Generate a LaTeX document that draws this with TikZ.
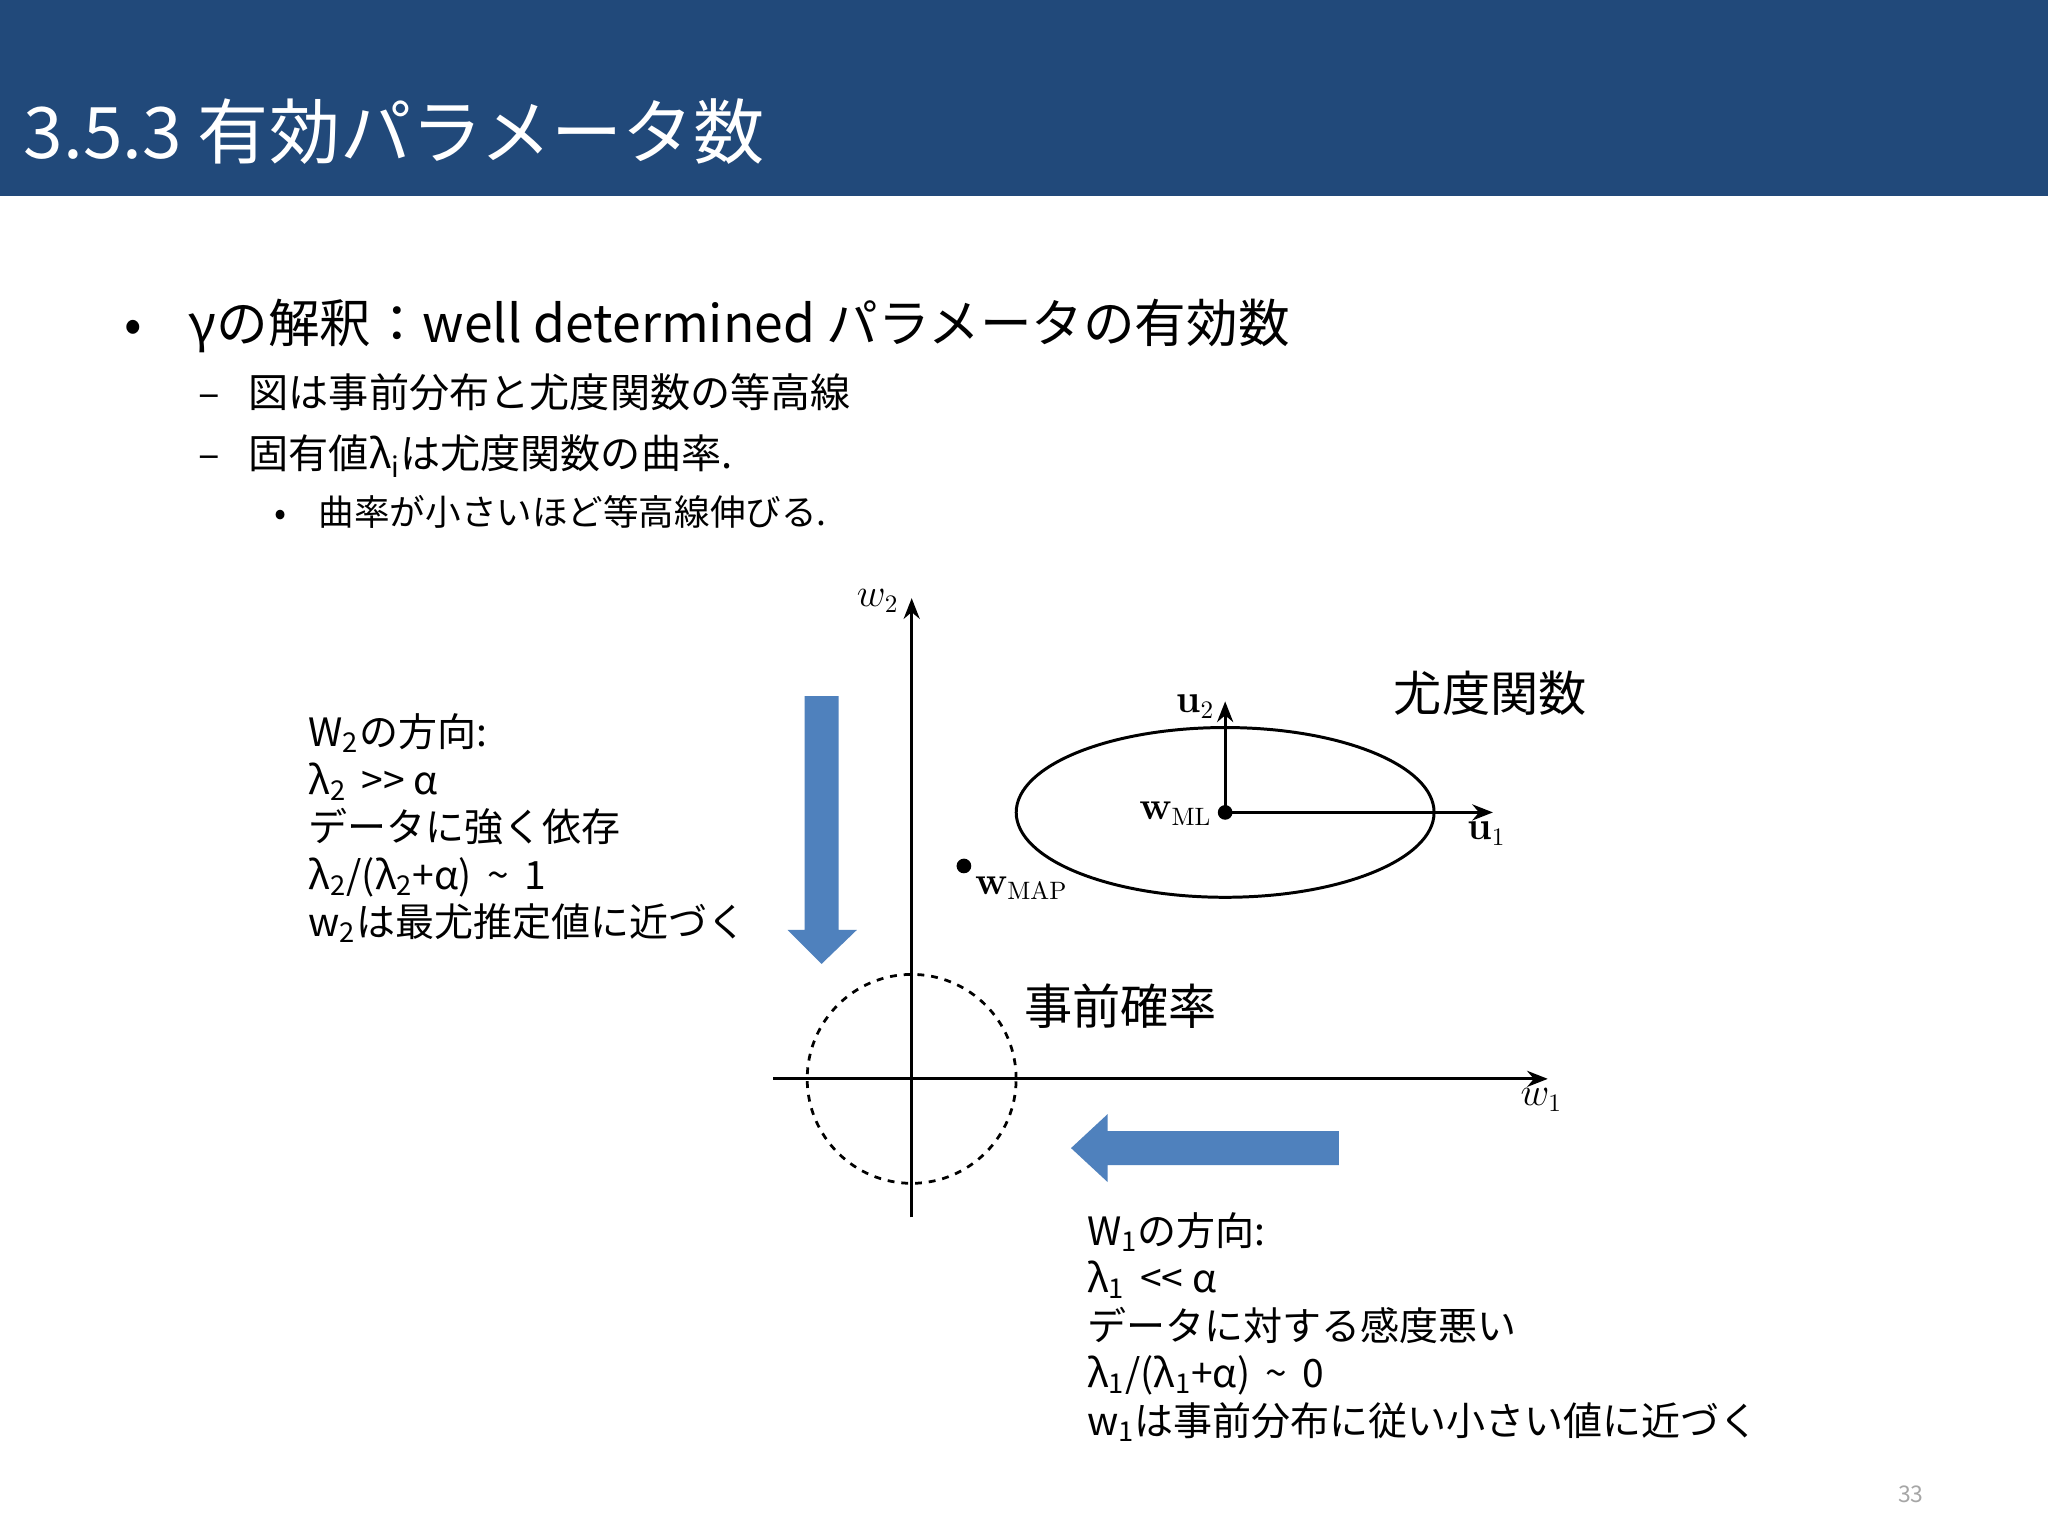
\documentclass[tikz,border=0pt]{standalone}
\usepackage[no-math]{fontspec}
\setmainfont{Noto Sans CJK JP}
\usetikzlibrary{arrows.meta,shapes.geometric}
\definecolor{hdr}{HTML}{21497A}
\definecolor{arr}{HTML}{4F81BD}
\newcommand{\sbs}[1]{\textsubscript{#1}}
\begin{document}
\begin{tikzpicture}[x=0.02cm,y=-0.02cm,
  txt/.style={anchor=base west,inner sep=0pt},
  ax/.style={line width=1.3pt,-{Stealth[length=9pt,width=7pt]}},
  ml/.style={inner sep=0pt,font=\fontsize{16}{18}\selectfont}]
\useasboundingbox (0,0) rectangle (1568,1176);
\fill[white] (0,0) rectangle (1568,1176);
\fill[hdr] (0,0) rectangle (1568,150);
\node[txt,text=white,font=\fontsize{31}{34}\selectfont] (title) at (18,121) {3.5.3 有効パラメータ数};
\node[txt,font=\fontsize{22.5}{26}\selectfont] (b1) at (95,262) {•\hspace{0.9em}γの解釈：well determined パラメータの有効数};
\node[txt,font=\fontsize{17.5}{20}\selectfont] (b2) at (152,312) {–\hspace{0.7em}図は事前分布と尤度関数の等高線};
\node[txt,font=\fontsize{17.5}{20}\selectfont] (b3) at (152,359) {–\hspace{0.7em}固有値λ\sbs{i}は尤度関数の曲率.};
\node[txt,font=\fontsize{15.5}{18}\selectfont] (b4) at (210,402) {•\hspace{0.9em}曲率が小さいほど等高線伸びる.};
% axes
\coordinate (yb) at (698,932); \coordinate (yt) at (698,458);
\coordinate (xl) at (592,826); \coordinate (xr) at (1185,826);
\draw[ax] (yb) -- (yt);
\draw[ax] (xl) -- (xr);
\node[ml] (w2) at (672,460) {$w_2$};
\node[ml] (w1) at (1180,842) {$w_1$};
\node[circle,draw,dashed,line width=1.2pt,minimum size=3.2cm,inner sep=0pt] (prior) at (698,826) {};
\node[ellipse,draw,line width=1.3pt,minimum width=6.4cm,minimum height=2.6cm,inner sep=0pt] (lik) at (938,622) {};
\fill (938,622) circle (3.2pt) coordinate (wml);
\coordinate (u1e) at (1143,622); \coordinate (u2e) at (938,537);
\draw[ax] (wml) -- (u1e);
\draw[ax] (wml) -- (u2e);
\node[ml] (u2) at (915,541) {$\mathbf{u}_2$};
\node[ml] (u1) at (1138,638) {$\mathbf{u}_1$};
\node[ml] (wmll) at (900,623) {$\mathbf{w}_{\mathrm{ML}}$};
\fill (738,663) circle (3.2pt) coordinate (wmap);
\node[ml] (wmapl) at (782,680) {$\mathbf{w}_{\mathrm{MAP}}$};
\node[font=\fontsize{21}{24}\selectfont,inner sep=0pt] (likl) at (1141,531) {尤度関数};
\node[font=\fontsize{21}{24}\selectfont,inner sep=0pt] (priorl) at (858,770) {事前確率};
% blue arrows
\fill[arr] (616,533) -- (642,533) -- (642,712) -- (656,712) -- (629,738) -- (603,712) -- (616,712) -- cycle;
\fill[arr] (1025,866) -- (1025,892) -- (848,892) -- (848,905) -- (820,879) -- (848,853) -- (848,866) -- cycle;
% text blocks
\node[txt,align=left,font=\fontsize{17}{20.7}\selectfont,anchor=north west] (lt) at (236,546) {W\sbs{2}の方向:\\λ\sbs{2} \,{>}{>} α\\データに強く依存\\λ\sbs{2}/(λ\sbs{2}+α) \,\textasciitilde\, 1\\w\sbs{2}は最尤推定値に近づく};
\node[txt,align=left,font=\fontsize{17}{20.7}\selectfont,anchor=north west] (rt) at (832,928) {W\sbs{1}の方向:\\λ\sbs{1} \,{<}{<} α\\データに対する感度悪い\\λ\sbs{1}/(λ\sbs{1}+α) \,\textasciitilde\, 0\\w\sbs{1}は事前分布に従い小さい値に近づく};
\node[text=gray!70,font=\fontsize{10}{12}\selectfont,inner sep=0pt] (pg) at (1463,1144) {33};
\end{tikzpicture}
\end{document}
